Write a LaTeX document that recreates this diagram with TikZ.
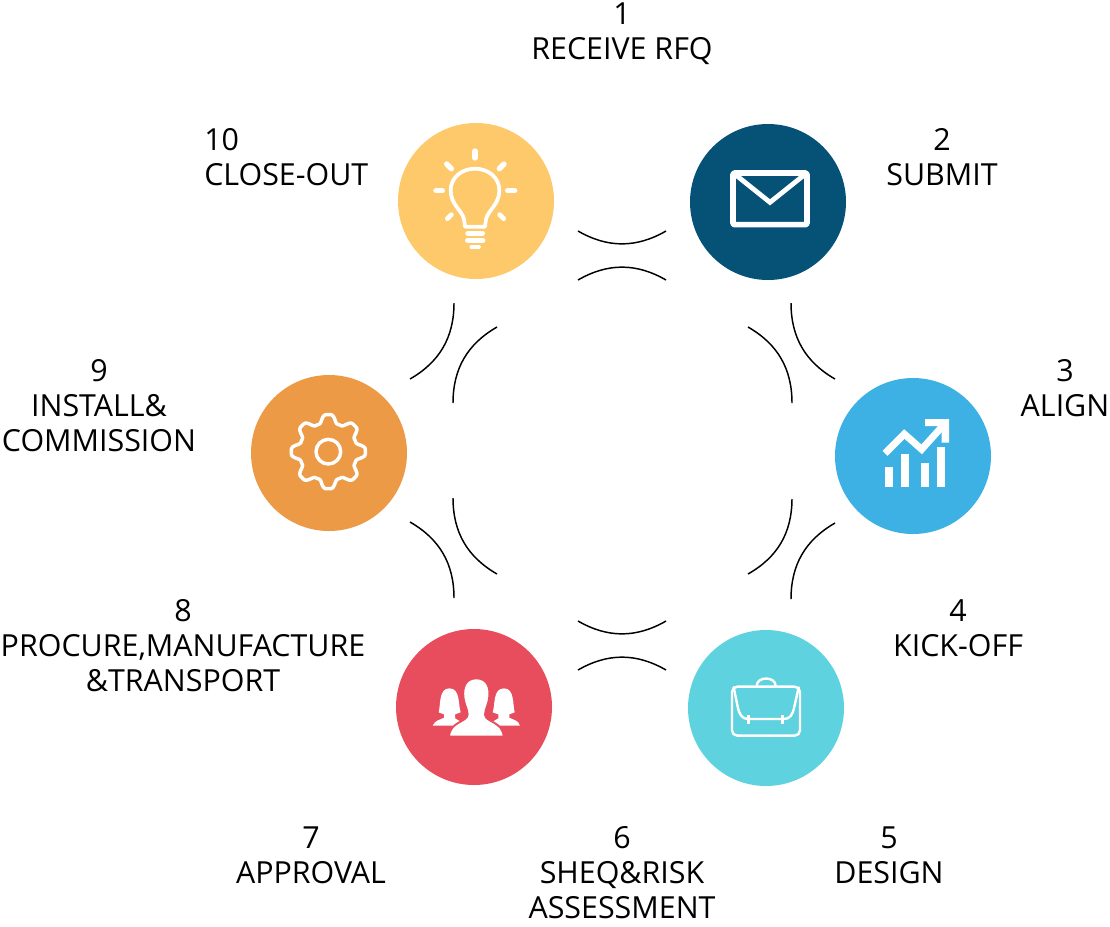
\documentclass[tikz,border=0pt]{standalone}
\usepackage{fontspec}
\setmainfont{Open Sans}
\definecolor{bulbyellow}{HTML}{FDC96B}
\definecolor{mailnavy}{HTML}{065277}
\definecolor{chartblue}{HTML}{3DB1E4}
\definecolor{caseteal}{HTML}{5ED3DF}
\definecolor{teamred}{HTML}{E74D5C}
\definecolor{gearorange}{HTML}{EC9A45}
\tikzset{
  disc/.style={circle,draw=none,minimum size=117pt,inner sep=0pt},
  arcline/.style={draw=black,line width=1.1pt},
  steplabel/.style={font=\fontsize{22.8}{26.25}\selectfont,align=center,inner sep=0pt,text=black},
  icon/.style={x=0.25pt,y=-0.25pt},
  iconline/.style={draw=white,line cap=round,line join=round}
}
\begin{document}
\begin{tikzpicture}[x=0.75pt,y=-0.75pt]
\useasboundingbox (0,0) rectangle (1110,926);

% the six discs
\node[disc,fill=bulbyellow] (bulb) at (476,201) {};
\node[disc,fill=mailnavy] (mail) at (768,202) {};
\node[disc,fill=chartblue] (chart) at (913,456) {};
\node[disc,fill=caseteal] (case) at (766,708) {};
\node[disc,fill=teamred] (team) at (474,707) {};
\node[disc,fill=gearorange] (gear) at (329,453) {};

% paired arcs between neighbouring discs
\draw[arcline] (578,231) to[bend right=30] (666,231);
\draw[arcline] (578,280) to[bend left=30] (666,280);
\draw[arcline] (791,303) to[bend right=30] (835,379);
\draw[arcline] (748,327) to[bend left=30] (792,403);
\draw[arcline] (835,523) to[bend right=30] (791,599);
\draw[arcline] (792,499) to[bend left=30] (748,574);
\draw[arcline] (578,621) to[bend right=30] (666,621);
\draw[arcline] (578,670) to[bend left=30] (666,670);
\draw[arcline] (410,522) to[bend left=30] (454,598);
\draw[arcline] (453,498) to[bend right=30] (497,574);
\draw[arcline] (454,303) to[bend left=30] (410,379);
\draw[arcline] (497,327) to[bend right=30] (453,403);

% light bulb
\begin{scope}[shift={(390,115)},icon]
  \draw[iconline,line width=2.8pt]
    (225,335) -- (222,312) .. controls (215,285) and (182,268) .. (182,226)
    .. controls (182,188) and (215,161) .. (255,161)
    .. controls (295,161) and (328,188) .. (328,226)
    .. controls (328,268) and (295,285) .. (288,312) -- (285,335) -- cycle;
  \draw[iconline,line width=3.5pt] (233,355) -- (278,355);
  \draw[iconline,line width=4pt] (233,376) -- (278,376);
  \draw[iconline,line width=2.8pt] (244,396) -- (267,396);
  \draw[iconline,line width=4pt] (255,108) -- (255,129);
  \draw[iconline,line width=4pt] (170,147) -- (184,161);
  \draw[iconline,line width=4pt] (342,147) -- (328,161);
  \draw[iconline,line width=4pt] (138,227) -- (157,227);
  \draw[iconline,line width=4pt] (353,227) -- (374,227);
  \draw[iconline,line width=3.5pt] (172,311) -- (184,299);
  \draw[iconline,line width=3.5pt] (341,311) -- (329,299);
\end{scope}

% envelope
\begin{scope}[shift={(685,115)},icon]
  \draw[iconline,line width=4.2pt,rounded corners=1pt] (144,174) rectangle (366,329);
  \draw[iconline,line width=3.6pt,line cap=butt,line join=miter] (150,178) -- (255,262) -- (360,178);
\end{scope}

% rising chart
\begin{scope}[shift={(830,370)},icon]
  \fill[white] (165,290) rectangle (190,352);
  \fill[white] (213,253) rectangle (238,352);
  \fill[white] (272,278) rectangle (298,352);
  \fill[white] (320,230) rectangle (345,352);
  \draw[white,line width=5.2pt,line join=miter] (165,250) -- (223,192) -- (275,238) -- (345,160);
  \fill[white] (285,147) -- (357,147) -- (357,218) -- (335,218) -- (335,168) -- (285,168) -- cycle;
\end{scope}

% briefcase
\begin{scope}[shift={(685,625)},icon]
  \draw[iconline,line width=1.8pt,rounded corners=4pt]
    (141,185) -- (345,185) -- (345,332) -- (141,332) -- cycle;
  \draw[iconline,line width=1.8pt] (146,187) -- (158,245) .. controls (163,270) and (172,282) .. (190,282)
    -- (296,282) .. controls (315,282) and (323,270) .. (328,245) -- (341,187);
  \draw[white,line width=2.6pt] (190,270) -- (190,296);
  \draw[white,line width=2.6pt] (293,270) -- (293,296);
  \draw[iconline,line width=1.8pt] (215,183) .. controls (215,153) and (272,153) .. (272,183);
\end{scope}

% three people
\begin{scope}[shift={(390,625)},icon]
  \fill[white] (146,262) .. controls (152,240) and (146,190) .. (178,190)
    .. controls (212,190) and (204,240) .. (212,262)
    -- (195,268) -- (195,280) .. controls (205,285) and (215,290) .. (220,302)
    -- (128,302) .. controls (135,285) and (150,285) .. (162,278)
    -- (162,268) -- cycle;
  \fill[white] (308,262) .. controls (316,240) and (308,190) .. (342,190)
    .. controls (374,190) and (368,240) .. (374,262)
    -- (358,268) -- (358,278) .. controls (370,285) and (385,285) .. (390,302)
    -- (300,302) .. controls (305,290) and (315,285) .. (325,280)
    -- (325,268) -- cycle;
  \filldraw[fill=white,draw=teamred,line width=1.4pt,line join=round]
    (259,160) .. controls (292,160) and (300,188) .. (298,212)
    .. controls (296,240) and (286,250) .. (285,268) .. controls (285,292) and (338,288) .. (341,335)
    -- (177,335) .. controls (180,288) and (233,292) .. (233,268)
    .. controls (232,250) and (222,240) .. (220,212)
    .. controls (218,188) and (226,160) .. (259,160) -- cycle;
\end{scope}

% gear
\begin{scope}[shift={(245,370)},icon]
  \draw[iconline,line width=2.6pt] (250,245) circle[radius=37];
  \draw[iconline,line width=2.6pt,shift={(250,245)}] plot[domain=0:360,samples=241,smooth]
    (\x:{99+14*(cos(8*\x)-cos(24*\x)/7)}) -- cycle;
\end{scope}

% step labels
\node[steplabel] (l1) at (622,34) {1\\RECEIVE RFQ};
\node[steplabel] (l2) at (942,157) {2\\SUBMIT};
\node[steplabel] (l3) at (1065,388) {3\\ALIGN};
\node[steplabel] (l4) at (958,628) {4\\KICK-OFF};
\node[steplabel] (l5) at (889,855) {5\\DESIGN};
\node[steplabel] (l6) at (622,873) {6\\SHEQ\&RISK\\ASSESSMENT};
\node[steplabel] (l7) at (311,855) {7\\APPROVAL};
\node[steplabel] (l8) at (183,646) {8\\PROCURE,MANUFACTURE\\\&TRANSPORT};
\node[steplabel] (l9) at (99,406) {9\\INSTALL\&\\COMMISSION};
\node[steplabel,align=left,anchor=west] (l10) at (204,157) {10\\CLOSE-OUT};
\end{tikzpicture}
\end{document}
